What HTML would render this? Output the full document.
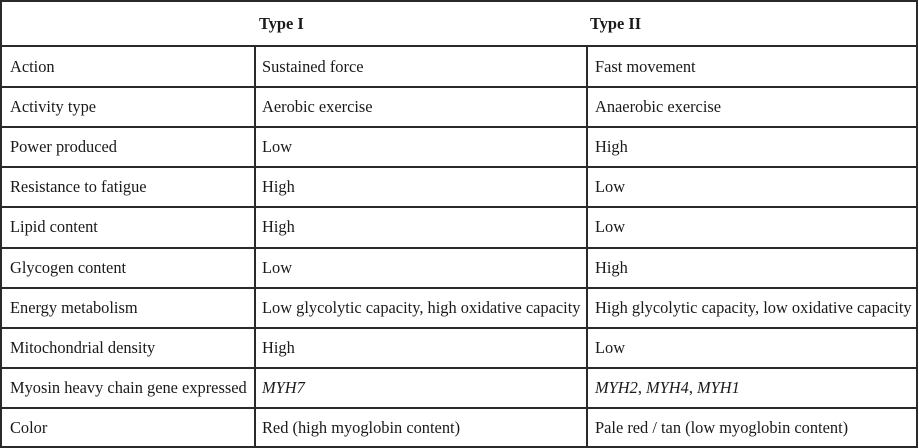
<!DOCTYPE html>
<html><head><style>
body{margin:0;width:919px;height:448px;background:#fff;position:relative;overflow:hidden;font-family:"Liberation Serif",serif;font-size:16.4px;color:#1a1a1a}
.h{position:absolute;background:#2a2a2a;height:2px;left:0;width:918px}
.v{position:absolute;background:#2a2a2a;width:2px}
.t{position:absolute;white-space:nowrap;line-height:20px}
b{font-weight:bold}
</style></head><body>
<div class="h" style="top:0"></div>
<div class="h" style="top:45px"></div>
<div class="h" style="top:86px"></div>
<div class="h" style="top:126px"></div>
<div class="h" style="top:166px"></div>
<div class="h" style="top:206px"></div>
<div class="h" style="top:247px"></div>
<div class="h" style="top:287px"></div>
<div class="h" style="top:327px"></div>
<div class="h" style="top:367px"></div>
<div class="h" style="top:407px"></div>
<div class="h" style="top:446px"></div>
<div class="v" style="left:0;top:0;height:448px"></div>
<div class="v" style="left:916px;top:0;height:448px"></div>
<div class="v" style="left:254px;top:46px;height:402px"></div>
<div class="v" style="left:586px;top:46px;height:402px"></div>
<div class="t" style="left:259px;top:14px"><b>Type I</b></div>
<div class="t" style="left:590px;top:14px"><b>Type II</b></div>
<div class="t" style="left:10px;top:57px">Action</div>
<div class="t" style="left:262px;top:57px">Sustained force</div>
<div class="t" style="left:595px;top:57px">Fast movement</div>
<div class="t" style="left:10px;top:97px">Activity type</div>
<div class="t" style="left:262px;top:97px">Aerobic exercise</div>
<div class="t" style="left:595px;top:97px">Anaerobic exercise</div>
<div class="t" style="left:10px;top:137px">Power produced</div>
<div class="t" style="left:262px;top:137px">Low</div>
<div class="t" style="left:595px;top:137px">High</div>
<div class="t" style="left:10px;top:177px">Resistance to fatigue</div>
<div class="t" style="left:262px;top:177px">High</div>
<div class="t" style="left:595px;top:177px">Low</div>
<div class="t" style="left:10px;top:217px">Lipid content</div>
<div class="t" style="left:262px;top:217px">High</div>
<div class="t" style="left:595px;top:217px">Low</div>
<div class="t" style="left:10px;top:258px">Glycogen content</div>
<div class="t" style="left:262px;top:258px">Low</div>
<div class="t" style="left:595px;top:258px">High</div>
<div class="t" style="left:10px;top:298px">Energy metabolism</div>
<div class="t" style="left:262px;top:298px">Low glycolytic capacity, high oxidative capacity</div>
<div class="t" style="left:595px;top:298px">High glycolytic capacity, low oxidative capacity</div>
<div class="t" style="left:10px;top:338px">Mitochondrial density</div>
<div class="t" style="left:262px;top:338px">High</div>
<div class="t" style="left:595px;top:338px">Low</div>
<div class="t" style="left:10px;top:378px">Myosin heavy chain gene expressed</div>
<div class="t" style="left:262px;top:378px"><i>MYH7</i></div>
<div class="t" style="left:595px;top:378px"><i>MYH2</i>, <i>MYH4</i>, <i>MYH1</i></div>
<div class="t" style="left:10px;top:418px">Color</div>
<div class="t" style="left:262px;top:418px">Red (high myoglobin content)</div>
<div class="t" style="left:595px;top:418px">Pale red / tan (low myoglobin content)</div>
</body></html>
